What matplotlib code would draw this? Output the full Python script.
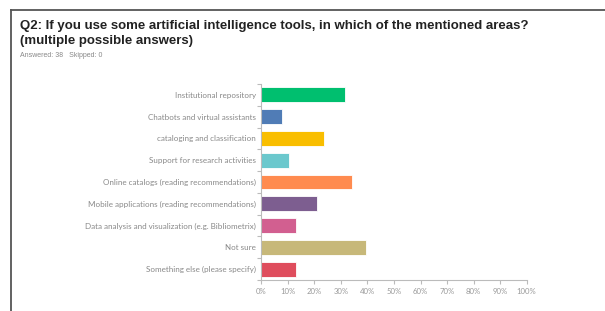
import numpy as np
import matplotlib.pyplot as plt
from matplotlib.lines import Line2D

# answer options and share of respondents (38 answered)
categories = [
    "Institutional repository",
    "Chatbots and virtual assistants",
    "cataloging and classification",
    "Support for research activities",
    "Online catalogs (reading recommendations)",
    "Mobile applications (reading recommendations)",
    "Data analysis and visualization (e.g. Bibliometrix)",
    "Not sure",
    "Something else (please specify)",
]
percent = [31.58, 7.89, 23.68, 10.53, 34.21, 21.05, 13.16, 39.47, 13.16]
colors = ["#00BF6F", "#507CB6", "#F9BE00", "#6BC8CD", "#FF8B4F",
          "#7D5E90", "#D25F90", "#C7B879", "#DF4D5D"]
xticks = list(range(0, 101, 10))
xticklabels = [f"{t}%" for t in xticks]

fig = plt.figure(figsize=(6.05, 3.11), dpi=100)

# frame lines of the survey card
fig.add_artist(Line2D([11 / 605, 11 / 605], [0, 1 - 9.5 / 311], color="#555555", lw=1.3))
fig.add_artist(Line2D([11 / 605, 1], [1 - 9.5 / 311, 1 - 9.5 / 311], color="#555555", lw=1.3))

fig.text(20 / 605, 1 - 25.5 / 311,
         "Q2: If you use some artificial intelligence tools, in which of the mentioned areas?",
         fontsize=9.5, fontweight="bold", family="Liberation Sans", color="#222222", va="center")
fig.text(20 / 605, 1 - 41 / 311, "(multiple possible answers)",
         fontsize=9.5, fontweight="bold", family="Liberation Sans", color="#222222", va="center")
fig.text(20 / 605, 1 - 55.5 / 311, "Answered: 38   Skipped: 0",
         fontsize=5.0, family="Liberation Sans", color="#888888", va="center")

ax = fig.add_axes([261.3 / 605, 31 / 311, (526.7 - 261.3) / 605, (280 - 84) / 311])
y = np.arange(len(categories))
ax.barh(y, percent, height=0.68, color=colors, edgecolor="white", linewidth=0.6)

ax.set_xlim(0, 100)
ax.set_ylim(len(categories) - 0.5, -0.5)
ax.set_xticks(xticks)
ax.set_xticklabels(xticklabels, family="Lato", fontsize=5.6, color="#999999")
ax.set_yticks(y)
ax.set_yticklabels(categories, family="Lato", fontsize=5.8, color="#888888")
ax.set_yticks(np.arange(-0.5, len(categories), 1), minor=True)
ax.tick_params(axis="y", which="major", length=0, pad=4)
ax.tick_params(axis="y", which="minor", length=3, color="#bbbbbb", width=0.8)
ax.tick_params(axis="x", length=3, color="#bbbbbb", width=0.8, pad=3)

for side in ["top", "right"]:
    ax.spines[side].set_visible(False)
for side in ["left", "bottom"]:
    ax.spines[side].set_color("#bbbbbb")
    ax.spines[side].set_linewidth(0.8)

fig.savefig("out.png", dpi=100)
